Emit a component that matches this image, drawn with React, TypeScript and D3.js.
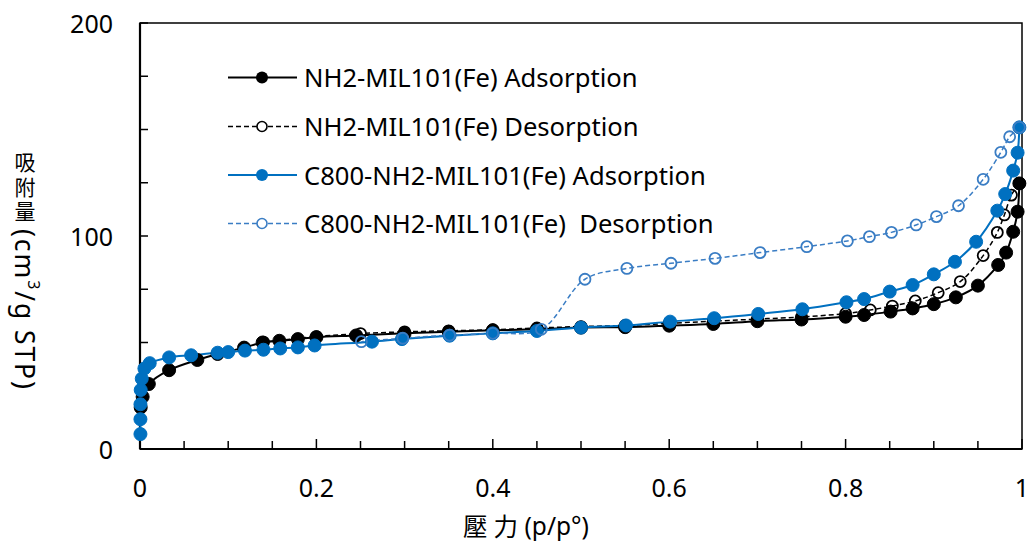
import React from "react";
import * as d3 from "d3";

// ---- data (p/p° , cm3/g STP) ----
const nh2AdsP = [0.0008, 0.003, 0.01, 0.033, 0.065, 0.088, 0.118, 0.139, 0.158, 0.179, 0.2, 0.245, 0.3, 0.35, 0.4, 0.45, 0.5, 0.55, 0.6, 0.65, 0.7, 0.75, 0.8, 0.821, 0.851, 0.876, 0.9, 0.925, 0.95, 0.973, 0.982, 0.99, 0.995, 0.997];
const nh2AdsV = [19.5, 24.5, 30.5, 37, 41.8, 44.6, 47.6, 50, 50.8, 51.6, 52.5, 53.3, 54.3, 55, 55.7, 56.2, 57, 57.2, 57.9, 58.7, 60, 60.8, 62.1, 62.9, 64.5, 66, 68, 71.2, 76.7, 86.4, 92.2, 102, 111.4, 124.7];

const nh2DesP = [0.997, 0.988, 0.98, 0.972, 0.956, 0.93, 0.905, 0.879, 0.853, 0.828, 0.8, 0.75, 0.7, 0.65, 0.6, 0.55, 0.5, 0.45, 0.4, 0.35, 0.3, 0.25, 0.2, 0.14];
const nh2DesV = [124.7, 119.2, 109.9, 101.7, 90.8, 78.6, 73.4, 69.5, 67.1, 65.3, 63.6, 62, 61, 60, 59, 58, 57.5, 56.8, 56, 55.5, 55, 54.2, 52.8, 50.2];

const c800AdsP = [0.0005, 0.0005, 0.0005, 0.0008, 0.002, 0.005, 0.011, 0.033, 0.058, 0.088, 0.1, 0.119, 0.14, 0.159, 0.179, 0.198, 0.263, 0.297, 0.351, 0.4, 0.45, 0.5, 0.551, 0.601, 0.651, 0.701, 0.751, 0.801, 0.821, 0.85, 0.876, 0.9, 0.924, 0.948, 0.972, 0.981, 0.99, 0.995, 0.997];
const c800AdsV = [7, 14, 21, 27.7, 33, 37.8, 40.3, 43, 44, 45.2, 45.5, 46.2, 46.6, 47.2, 47.7, 48.6, 50.4, 51.6, 53.2, 54.3, 55.4, 57, 58, 59.8, 61.4, 63.4, 65.6, 68.9, 70.4, 73.9, 77, 82, 87.9, 97.3, 111.9, 119.7, 130.7, 139.1, 151];

const c800DesP = [0.997, 0.986, 0.976, 0.956, 0.928, 0.903, 0.88, 0.852, 0.827, 0.802, 0.756, 0.703, 0.652, 0.602, 0.552, 0.5045, 0.455, 0.4, 0.351, 0.298, 0.251];
const c800DesV = [151, 146.6, 139.3, 126.6, 114.2, 109.1, 105.2, 101.7, 99.7, 97.7, 95, 92.2, 89.5, 87.2, 84.8, 79.7, 56.2, 54.3, 53.4, 52, 50.4];

const seriesNames = [
  "NH2-MIL101(Fe) Adsorption",
  "NH2-MIL101(Fe) Desorption",
  "C800-NH2-MIL101(Fe) Adsorption",
  "C800-NH2-MIL101(Fe)  Desorption",
];

const xTickLabels = [0, 0.2, 0.4, 0.6, 0.8, 1];
const yTickLabels = [0, 100, 200];
const yTitleCJK = "吸附量";

const W = 1032;
const H = 543;
const FONT = "'Noto Sans', 'Open Sans', sans-serif";
const CJK = "'Noto Sans CJK TC', 'Noto Sans CJK SC', sans-serif";

export default function App() {
  const x = d3.scaleLinear().domain([0, 1]).range([140, 1022]);
  const y = d3.scaleLinear().domain([0, 200]).range([449, 23]);

  const BLACK = "#000000";
  const BLUE = "#0070C0";
  const BLUE2 = "#3A7DC4";

  const series = [
    { p: nh2AdsP, v: nh2AdsV, color: BLACK, dash: null, filled: true },
    { p: nh2DesP, v: nh2DesV, color: BLACK, dash: "5,3", filled: false },
    { p: c800AdsP, v: c800AdsV, color: BLUE, dash: null, filled: true },
    { p: c800DesP, v: c800DesV, color: BLUE2, dash: "5,3", filled: false },
  ];

  const line = d3
    .line<[number, number]>()
    .x((d) => x(d[0]))
    .y((d) => y(d[1]))
    .curve(d3.curveCatmullRom.alpha(0.5));

  const xMinor = d3.range(0, 1.0001, 0.05);
  const yMinor = d3.range(0, 200.001, 25);

  const legendY = [77.5, 126.5, 175, 223.5];

  return (
    <svg
      width={W}
      height={H}
      style={{ position: "absolute", left: 0, top: 0, background: "#fff" }}
      fontFamily={FONT}
    >
      <rect x={0} y={0} width={W} height={H} fill="#fff" />
      {/* plot frame */}
      <rect x={x(0)} y={y(200)} width={x(1) - x(0)} height={y(0) - y(200)} fill="none" stroke="#000" strokeWidth={1.5} />
      {/* ticks */}
      {xMinor.map((t, i) => (
        <line key={"xt" + i} x1={x(t)} x2={x(t)} y1={y(0)} y2={y(0) - (i % 4 === 0 ? 10 : 8)} stroke="#000" strokeWidth={1.5} />
      ))}
      {yMinor.map((t, i) => (
        <line key={"yt" + i} x1={x(0)} x2={x(0) + 8} y1={y(t)} y2={y(t)} stroke="#000" strokeWidth={1.5} />
      ))}
      {/* thicker left & bottom axes */}
      <line x1={x(0)} x2={x(0)} y1={y(0)} y2={y(200)} stroke="#000" strokeWidth={2.2} />
      <line x1={x(0)} x2={x(1)} y1={y(0)} y2={y(0)} stroke="#000" strokeWidth={2.2} />

      {xTickLabels.map((t) => (
        <text key={"xl" + t} x={x(t)} y={487} textAnchor="middle" dominantBaseline="central" fontSize={25} fill="#000">
          {String(t)}
        </text>
      ))}
      {yTickLabels.map((t) => (
        <text key={"yl" + t} x={113} y={y(t)} textAnchor="end" dominantBaseline="central" fontSize={25} fill="#000">
          {String(t)}
        </text>
      ))}

      {/* series lines */}
      {series.map((s, i) => {
        const pts = s.p.map((p, j) => [p, s.v[j]] as [number, number]);
        return (
          <path key={"l" + i} d={line(pts) || ""} fill="none" stroke={s.color} strokeWidth={s.dash ? 1.5 : 2} strokeDasharray={s.dash || undefined} />
        );
      })}
      {/* markers */}
      {series.map((s, i) => (
        <g key={"m" + i}>
          {s.p.map((p, j) =>
            s.filled ? (
              <circle key={j} cx={x(p)} cy={y(s.v[j])} r={6.5} fill={s.color} stroke={s.color} strokeWidth={1} />
            ) : (
              <circle key={j} cx={x(p)} cy={y(s.v[j])} r={5.5} fill="none" stroke={s.color} strokeWidth={1.8} />
            )
          )}
        </g>
      ))}

      {/* legend */}
      {series.map((s, i) => (
        <g key={"lg" + i}>
          <line x1={228} x2={297} y1={legendY[i]} y2={legendY[i]} stroke={s.color} strokeWidth={s.dash ? 1.5 : 2} strokeDasharray={s.dash || undefined} />
          {s.filled ? (
            <circle cx={262} cy={legendY[i]} r={6} fill={s.color} />
          ) : (
            <circle cx={262} cy={legendY[i]} r={5} fill="#fff" stroke={s.color} strokeWidth={1.6} />
          )}
          <text x={304} y={legendY[i]} dominantBaseline="central" fontSize={25.6} fill="#000" style={{ whiteSpace: "pre" }}>
            {seriesNames[i]}
          </text>
        </g>
      ))}

      {/* axis titles */}
      <text x={526} y={525} textAnchor="middle" dominantBaseline="central" fontSize={24.5} fill="#000">
        <tspan fontFamily={CJK}>壓</tspan>
        <tspan fontFamily={CJK} dx={6}>力</tspan>
        <tspan> (p/p°)</tspan>
      </text>
      <g fill="#000">
        <text
          x={25}
          y={152}
          fontSize={21}
          fontFamily={CJK}
          style={{ writingMode: "vertical-rl", letterSpacing: "3.5px" } as React.CSSProperties}
        >
          {yTitleCJK}
        </text>
        <text
          transform="translate(25,229) rotate(90)"
          x={0}
          y={0}
          textAnchor="start"
          dominantBaseline="central"
          fontSize={26.5}
          textLength={160}
          lengthAdjust="spacing"
        >
          (cm<tspan fontSize={16} dy={-9}>3</tspan><tspan dy={9}>/g STP)</tspan>
        </text>
      </g>
    </svg>
  );
}
